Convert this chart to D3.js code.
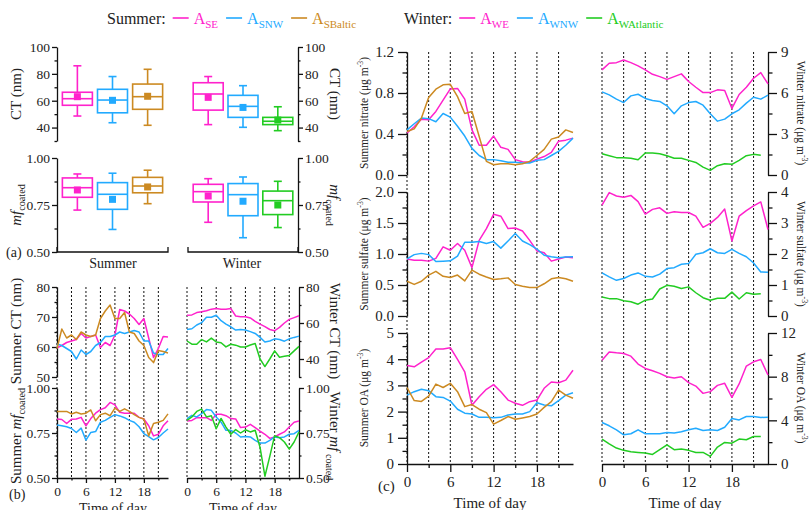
<!DOCTYPE html>
<html>
<head>
<meta charset="utf-8">
<script src="https://cdn.jsdelivr.net/npm/d3@7"></script>
<style>
  body { margin: 0; background: #fff; }
  svg { font-family: "Liberation Serif", "Times New Roman", serif; }
</style>
</head>
<body>
<svg id="chart" width="810" height="510"></svg>
<script>
// ---- data ----
const hours = d3.range(24);
const dotHours = [0, 3, 6, 9, 12, 15, 18, 21];
const summerKeys = ["SE", "SNW", "SBaltic"];
const winterKeys = ["WE", "WNW", "WAtlantic"];

// box stats: [low whisker, q1, median, q3, high whisker, mean]
const ctBoxSummer = [[48.6, 56.6, 61.5, 66.3, 86, 63], [43.6, 51, 60.5, 68.5, 78, 60.3], [41.7, 53.6, 63, 72.4, 83.4, 63.3]];
const ctBoxWinter = [[42.2, 53, 65, 73.4, 78, 62.5], [40.2, 47.6, 55.8, 64, 71.2, 55], [37.7, 42.2, 44.7, 47.6, 55.5, 45.6]];
const mfBoxSummer = [[0.723, 0.791, 0.842, 0.894, 0.915, 0.83], [0.62, 0.727, 0.807, 0.869, 0.919, 0.78], [0.757, 0.815, 0.851, 0.897, 0.935, 0.846]];
const mfBoxWinter = [[0.658, 0.766, 0.821, 0.86, 0.89, 0.798], [0.576, 0.693, 0.805, 0.864, 0.899, 0.77], [0.63, 0.699, 0.773, 0.824, 0.876, 0.75]];

// (b) diurnal CT and mf_coated
const ctSumSE = [59.7, 60.5, 61.5, 62, 62.5, 64.5, 63, 63.5, 64, 59.8, 61.5, 60.5, 64, 72.5, 72, 71, 69.5, 67.5, 69.5, 63, 56.5, 59.5, 63.5, 63.3];
const ctSumSNW = [61, 60.5, 59.5, 58.5, 56, 59, 57.5, 58.5, 60.5, 61.5, 63.5, 63.5, 64, 65, 64.5, 65, 65.5, 65, 62, 62, 58, 57.5, 57.5, 59.5];
const ctSumSBaltic = [59.5, 66, 63, 64, 62.5, 65, 64, 63.5, 64, 69.5, 72, 74, 69.5, 69.5, 71.5, 65, 64.5, 62, 60.5, 56.5, 54.8, 58.8, 58.5, 58];
const mfSumSE = [0.828, 0.825, 0.803, 0.826, 0.828, 0.837, 0.79, 0.83, 0.86, 0.88, 0.89, 0.92, 0.906, 0.865, 0.86, 0.86, 0.86, 0.837, 0.828, 0.79, 0.734, 0.743, 0.79, 0.818];
const mfSumSNW = [0.794, 0.79, 0.785, 0.775, 0.753, 0.777, 0.71, 0.753, 0.758, 0.81, 0.82, 0.837, 0.852, 0.845, 0.835, 0.82, 0.81, 0.785, 0.747, 0.73, 0.712, 0.725, 0.75, 0.772];
const mfSumSBaltic = [0.87, 0.87, 0.87, 0.856, 0.865, 0.856, 0.86, 0.878, 0.818, 0.852, 0.86, 0.846, 0.888, 0.87, 0.884, 0.87, 0.852, 0.837, 0.828, 0.734, 0.803, 0.81, 0.82, 0.856];
const ctWinWE = [64.3, 64.5, 65.8, 66.2, 66.8, 67.7, 68, 67.7, 67.7, 68, 63.9, 63.5, 63.5, 62.8, 60.9, 59.4, 58, 56.4, 55.7, 57.6, 60, 62, 63, 64];
const ctWinWNW = [56.4, 56.8, 58.9, 60.2, 63.2, 63.2, 64.3, 61.3, 59.4, 57.9, 56.1, 56.4, 56.1, 55.2, 54.2, 52, 49.4, 50, 51.2, 50.8, 49.9, 51.2, 52, 52.7];
const ctWinWAtlantic = [50, 48.2, 48.2, 50.8, 49.5, 51.6, 49.5, 49, 46.7, 48.2, 47.7, 46.7, 46.7, 47.8, 48.6, 40, 35.8, 40, 44.5, 41, 41.5, 42, 44.5, 47];
const mfWinWE = [0.817, 0.82, 0.835, 0.835, 0.835, 0.82, 0.854, 0.854, 0.846, 0.83, 0.828, 0.78, 0.783, 0.798, 0.78, 0.761, 0.743, 0.72, 0.728, 0.743, 0.756, 0.783, 0.81, 0.817];
const mfWinWNW = [0.83, 0.848, 0.839, 0.857, 0.88, 0.876, 0.839, 0.81, 0.765, 0.765, 0.75, 0.728, 0.731, 0.728, 0.709, 0.694, 0.694, 0.709, 0.728, 0.724, 0.728, 0.743, 0.746, 0.765];
const mfWinWAtlantic = [0.82, 0.839, 0.87, 0.883, 0.839, 0.846, 0.774, 0.831, 0.783, 0.743, 0.769, 0.75, 0.768, 0.756, 0.765, 0.67, 0.51, 0.62, 0.735, 0.724, 0.7, 0.66, 0.7, 0.756];

// (c) diurnal composition
const nitSumSE = [0.41, 0.47, 0.545, 0.54, 0.62, 0.73, 0.84, 0.845, 0.74, 0.44, 0.29, 0.29, 0.38, 0.27, 0.25, 0.15, 0.13, 0.125, 0.155, 0.18, 0.22, 0.33, 0.34, 0.36];
const nitSumSNW = [0.44, 0.5, 0.555, 0.55, 0.52, 0.6, 0.565, 0.475, 0.38, 0.26, 0.19, 0.15, 0.15, 0.14, 0.125, 0.125, 0.117, 0.117, 0.143, 0.15, 0.19, 0.23, 0.29, 0.36];
const nitSumSBaltic = [0.425, 0.45, 0.555, 0.755, 0.837, 0.88, 0.885, 0.765, 0.6, 0.62, 0.375, 0.133, 0.1, 0.11, 0.11, 0.1, 0.11, 0.133, 0.19, 0.25, 0.35, 0.37, 0.44, 0.415];
const sulSumSE = [0.92, 0.9, 0.9, 0.885, 0.93, 1.115, 1.06, 1.17, 1.06, 0.78, 1.22, 1.41, 1.64, 1.61, 1.41, 1.42, 1.37, 1.22, 1.05, 1.02, 0.885, 0.92, 0.95, 0.94];
const sulSumSNW = [0.92, 0.99, 1.01, 0.99, 0.88, 0.885, 0.89, 0.965, 1.19, 1.19, 1.2, 1.17, 1.2, 1.095, 1.21, 1.33, 1.21, 1.15, 1.08, 0.98, 0.955, 0.94, 0.95, 0.955];
const sulSumSBaltic = [0.56, 0.51, 0.56, 0.66, 0.72, 0.64, 0.62, 0.66, 0.566, 0.74, 0.674, 0.63, 0.59, 0.6, 0.615, 0.507, 0.48, 0.458, 0.458, 0.52, 0.6, 0.62, 0.6, 0.56];
const oaSumSE = [3.76, 3.71, 3.89, 4.06, 4.39, 4.39, 4.44, 3.99, 3.52, 2.24, 2.57, 2.85, 3.03, 2.76, 2.44, 2.32, 2.24, 2.38, 2.44, 2.89, 3.13, 3.1, 3.2, 3.58];
const oaSumSNW = [2.63, 2.76, 2.85, 2.8, 2.57, 2.54, 2.4, 2.09, 1.94, 1.91, 1.78, 1.78, 1.77, 1.78, 1.87, 1.91, 1.91, 2.0, 2.34, 2.25, 2.22, 2.42, 2.63, 2.72];
const oaSumSBaltic = [2.92, 2.42, 2.39, 2.59, 3.05, 2.92, 3.08, 2.76, 2.19, 2.27, 2.09, 1.96, 1.52, 1.66, 1.81, 1.71, 1.76, 1.81, 1.91, 2.16, 2.38, 2.82, 2.63, 2.51];
const nitWinWE = [7.69, 8.18, 8.22, 8.42, 8.22, 7.98, 7.69, 7.37, 7.2, 7.0, 7.2, 7.4, 6.84, 6.42, 6.03, 6.03, 6.23, 6.18, 4.87, 5.89, 6.42, 7.08, 7.49, 6.67];
const nitWinWNW = [6.08, 5.86, 5.55, 5.3, 5.79, 5.91, 5.6, 5.45, 5.38, 5.06, 4.48, 5.06, 5.3, 5.38, 5.11, 4.48, 3.94, 4.09, 4.48, 4.77, 5.26, 5.69, 5.55, 5.84];
const nitWinWAtlantic = [1.56, 1.41, 1.27, 1.27, 1.22, 1.12, 1.61, 1.61, 1.56, 1.41, 1.22, 1.22, 1.07, 0.92, 0.58, 0.34, 0.68, 0.83, 0.78, 1.07, 1.41, 1.51, 1.44];
const sulWinWE = [3.58, 3.98, 3.87, 3.83, 3.89, 3.69, 3.29, 3.44, 3.49, 3.31, 3.36, 3.34, 3.34, 3.22, 2.86, 2.99, 3.18, 3.45, 2.42, 3.22, 3.4, 3.55, 3.68, 2.79];
const sulWinWNW = [1.39, 1.26, 1.15, 1.21, 1.32, 1.39, 1.28, 1.26, 1.35, 1.53, 1.56, 1.67, 1.69, 1.99, 2.04, 2.17, 2.04, 2.02, 2.15, 2.02, 1.91, 1.71, 1.42, 1.41];
const sulWinWAtlantic = [0.61, 0.56, 0.56, 0.49, 0.46, 0.38, 0.51, 0.55, 0.87, 0.99, 0.96, 0.89, 0.94, 0.75, 0.59, 0.51, 0.57, 0.57, 0.77, 0.55, 0.75, 0.7, 0.72];
const oaWinWE = [9.51, 10.27, 10.18, 10.12, 9.88, 9.15, 8.75, 8.54, 8.3, 7.99, 7.87, 7.99, 7.45, 7.14, 6.47, 6.63, 7.2, 7.39, 6.11, 7.33, 8.97, 9.36, 9.57, 8.15];
const oaWinWNW = [3.8, 3.5, 3.13, 2.67, 2.77, 3.13, 2.77, 2.77, 2.77, 2.89, 2.83, 2.95, 3.13, 3.28, 3.07, 3.13, 3.07, 3.37, 4.16, 4.04, 4.35, 4.35, 4.26, 4.29];
const oaWinWAtlantic = [2.28, 1.85, 1.46, 1.25, 1.12, 1.06, 1.0, 0.88, 1.31, 1.76, 1.31, 1.37, 1.25, 1.06, 1.06, 0.7, 1.55, 1.98, 1.91, 2.28, 2.22, 2.52, 2.52];

const colors = { SE: "#ff22cc", SNW: "#22aaff", SBaltic: "#cc8a22", WE: "#ff22cc", WNW: "#22aaff", WAtlantic: "#22cc22" };

const svg = d3.select("#chart");
const FONT = '"Liberation Serif", "Times New Roman", serif';

// ---- helpers ----
function styleAxis(g, fs) {
  g.attr("font-family", FONT).attr("font-size", fs);
  g.selectAll("path, line").attr("stroke", "#111").attr("stroke-width", 1.3);
  g.selectAll("text").attr("fill", "#222");
}

function yAxis(scale, x, side, major, minor, fmt, size, fs, pad) {
  const mk = side === "left" ? d3.axisLeft : d3.axisRight;
  const g = svg.append("g").attr("transform", `translate(${x},0)`);
  g.call(mk(scale).tickValues(major).tickFormat(fmt).tickSize(size).tickSizeOuter(0).tickPadding(pad));
  if (minor.length) {
    g.append("g").call(mk(scale).tickValues(minor).tickFormat("").tickSize(size / 2).tickSizeOuter(0))
      .select(".domain").remove();
  }
  styleAxis(g, fs);
  return g;
}

function xAxis(scale, y, size, fs, pad) {
  const g = svg.append("g").attr("transform", `translate(0,${y})`);
  g.call(d3.axisBottom(scale).tickValues([0, 6, 12, 18]).tickFormat(d3.format("d")).tickSize(size).tickSizeOuter(0).tickPadding(pad));
  g.append("g").call(d3.axisBottom(scale).tickValues([3, 9, 15, 21]).tickFormat("").tickSize(size / 2).tickSizeOuter(0))
    .select(".domain").remove();
  styleAxis(g, fs);
}

function dotted(x, y0, y1) {
  svg.append("g").selectAll("line").data(dotHours).join("line")
    .attr("x1", d => x(d)).attr("x2", d => x(d))
    .attr("y1", y0).attr("y2", y1)
    .attr("stroke", "#111").attr("stroke-width", 1).attr("stroke-dasharray", "2,2");
}

function lines(x, y, series) {
  const line = d3.line().x((d, i) => x(i)).y(d => y(d));
  svg.append("g").selectAll("path").data(series).join("path")
    .attr("d", d => line(d.values))
    .attr("fill", "none")
    .attr("stroke", d => colors[d.key])
    .attr("stroke-width", 1.5)
    .attr("stroke-linejoin", "round");
}

function boxes(x, y, keys, stats) {
  const g = svg.append("g");
  keys.forEach((k, i) => {
    const [lo, q1, med, q3, hi, mean] = stats[i];
    const cx = x(k), col = colors[k], w = 30, cap = 8;
    const b = g.append("g").attr("stroke", col).attr("stroke-width", 1.6).attr("fill", "none");
    b.append("line").attr("x1", cx).attr("x2", cx).attr("y1", y(hi)).attr("y2", y(q3));
    b.append("line").attr("x1", cx).attr("x2", cx).attr("y1", y(q1)).attr("y2", y(lo));
    b.append("line").attr("x1", cx - cap / 2).attr("x2", cx + cap / 2).attr("y1", y(hi)).attr("y2", y(hi));
    b.append("line").attr("x1", cx - cap / 2).attr("x2", cx + cap / 2).attr("y1", y(lo)).attr("y2", y(lo));
    b.append("rect").attr("x", cx - w / 2).attr("y", y(q3)).attr("width", w).attr("height", y(q1) - y(q3));
    b.append("line").attr("x1", cx - w / 2).attr("x2", cx + w / 2).attr("y1", y(med)).attr("y2", y(med));
    g.append("rect").attr("x", cx - 3.5).attr("y", y(mean) - 3.5).attr("width", 7).attr("height", 7).attr("fill", col);
  });
}

// rotated axis title; parts = [[text, {italic, sub, sup}], ...]
function vlabel(x, y, rot, parts, fs) {
  const t = svg.append("text")
    .attr("transform", `translate(${x},${y}) rotate(${rot})`)
    .attr("text-anchor", "middle").attr("font-size", fs).attr("fill", "#222");
  let shift = 0;
  parts.forEach(([txt, o = {}]) => {
    const want = o.sub ? fs * 0.25 : o.sup ? -fs * 0.4 : 0;
    const s = t.append("tspan").text(txt).attr("dy", want - shift);
    shift = want;
    if (o.italic) s.attr("font-style", "italic");
    if (o.sub || o.sup) s.attr("font-size", fs * 0.68);
  });
}

function ser(keys, arrs) { return keys.map((k, i) => ({ key: k, values: arrs[i] })); }

// ---- legend ----
function legend(x0, title, keys) {
  const y = 24;
  let x = x0;
  const tt = svg.append("text").attr("x", x).attr("y", y).attr("font-size", 16).attr("fill", "#222").text(title);
  x += tt.node().getComputedTextLength() + 7;
  keys.forEach(k => {
    svg.append("line").attr("x1", x).attr("x2", x + 16).attr("y1", y - 6).attr("y2", y - 6)
      .attr("stroke", colors[k]).attr("stroke-width", 1.6);
    x += 21;
    const t = svg.append("text").attr("x", x).attr("y", y).attr("font-size", 16).attr("fill", colors[k]);
    t.append("tspan").text("A");
    t.append("tspan").text(k).attr("font-size", 11).attr("dy", 4);
    x += t.node().getComputedTextLength() + 8;
  });
}
legend(107, "Summer:", summerKeys);
legend(404, "Winter:", winterKeys);

// ---- panel (a) box plots ----
const xBoxS = d3.scalePoint().domain(summerKeys).range([57, 168]).padding(0.58);
const xBoxW = d3.scalePoint().domain(winterKeys).range([188, 298]).padding(0.58);
const yCtA = d3.scaleLinear().domain([30, 100]).range([141, 47]);
const yMfA = d3.scaleLinear().domain([0.5, 1]).range([252, 158]);

yAxis(yCtA, 57, "left", [40, 60, 80, 100], [30, 50, 70, 90], d3.format("d"), 5, 13.5, 2);
yAxis(yCtA, 298, "right", [40, 60, 80, 100], [30, 50, 70, 90], d3.format("d"), 5, 13.5, 2);
yAxis(yMfA, 57, "left", [0.5, 0.75, 1], [0.625, 0.875], d3.format(".2f"), 5, 13.5, 2);
yAxis(yMfA, 298, "right", [0.5, 0.75, 1], [0.625, 0.875], d3.format(".2f"), 5, 13.5, 2);

// broken category axis
[[57, 168], [188, 298]].forEach(([a, b]) => {
  svg.append("path").attr("d", `M${a},247V252H${b}V247`).attr("fill", "none")
    .attr("stroke", "#111").attr("stroke-width", 1.3);
});
svg.append("text").attr("x", 113).attr("y", 268).attr("text-anchor", "middle").attr("font-size", 14).attr("fill", "#222").text("Summer");
svg.append("text").attr("x", 242).attr("y", 268).attr("text-anchor", "middle").attr("font-size", 14).attr("fill", "#222").text("Winter");
svg.append("text").attr("x", 6).attr("y", 257).attr("font-size", 14).attr("fill", "#222").text("(a)");

boxes(xBoxS, yCtA, summerKeys, ctBoxSummer);
boxes(xBoxW, yCtA, winterKeys, ctBoxWinter);
boxes(xBoxS, yMfA, summerKeys, mfBoxSummer);
boxes(xBoxW, yMfA, winterKeys, mfBoxWinter);

vlabel(21, 94, -90, [["CT (nm)"]], 15);
vlabel(330, 94, 90, [["CT (nm)"]], 15);
vlabel(21, 205, -90, [["mf", { italic: true }], ["coated", { sub: true }]], 15);
vlabel(330, 205, 90, [["mf", { italic: true }], ["coated", { sub: true }]], 15);

// ---- panel (b) diurnal CT / mf ----
const xBS = d3.scaleLinear().domain([0, 23]).range([57, 168]);
const xBW = d3.scaleLinear().domain([0, 23]).range([187, 299]);
const yCtBS = d3.scaleLinear().domain([50, 80]).range([377, 287]);
const yCtBW = d3.scaleLinear().domain([30, 80]).range([377, 287]);
const yMfB = d3.scaleLinear().domain([0.5, 1]).range([478, 388]);

dotted(xBS, 287, 478);
dotted(xBW, 287, 478);

yAxis(yCtBS, 57, "left", [50, 60, 70, 80], [55, 65, 75], d3.format("d"), 5, 13.5, 2);
yAxis(yCtBW, 299, "right", [40, 60, 80], [30, 50, 70], d3.format("d"), 5, 13.5, 2);
yAxis(yMfB, 57, "left", [0.5, 0.75, 1], [0.625, 0.875], d3.format(".2f"), 5, 13.5, 2);
yAxis(yMfB, 299, "right", [0.5, 0.75, 1], [0.625, 0.875], d3.format(".2f"), 5, 13.5, 2);
xAxis(xBS, 478, 5, 13.5, 3);
xAxis(xBW, 478, 5, 13.5, 3);

lines(xBS, yCtBS, ser(summerKeys, [ctSumSE, ctSumSNW, ctSumSBaltic]));
lines(xBW, yCtBW, ser(winterKeys, [ctWinWE, ctWinWNW, ctWinWAtlantic]));
lines(xBS, yMfB, ser(summerKeys, [mfSumSE, mfSumSNW, mfSumSBaltic]));
lines(xBW, yMfB, ser(winterKeys, [mfWinWE, mfWinWNW, mfWinWAtlantic]));

vlabel(21, 331, -90, [["Summer CT (nm)"]], 15);
vlabel(21, 436, -90, [["Summer "], ["mf", { italic: true }], ["coated", { sub: true }]], 15);
vlabel(330, 331, 90, [["Winter CT (nm)"]], 15);
vlabel(330, 436, 90, [["Winter "], ["mf", { italic: true }], [" coated", { sub: true }]], 15);
svg.append("text").attr("x", 9).attr("y", 499).attr("font-size", 14).attr("fill", "#222").text("(b)");
svg.append("text").attr("x", 113).attr("y", 513).attr("text-anchor", "middle").attr("font-size", 14).attr("fill", "#222").text("Time of day");
svg.append("text").attr("x", 243).attr("y", 513).attr("text-anchor", "middle").attr("font-size", 14).attr("fill", "#222").text("Time of day");

// ---- panel (c) diurnal composition ----
const xCS = d3.scaleLinear().domain([0, 23]).range([407, 573]);
const xCW = d3.scaleLinear().domain([0, 23]).range([602, 768]);
const yNitS = d3.scaleLinear().domain([0, 1.2]).range([175, 52]);
const yNitW = d3.scaleLinear().domain([0, 9]).range([175, 52]);
const ySulS = d3.scaleLinear().domain([0, 2]).range([316, 192]);
const ySulW = d3.scaleLinear().domain([0, 4]).range([316, 192]);
const yOaS = d3.scaleLinear().domain([0, 5]).range([464, 333]);
const yOaW = d3.scaleLinear().domain([0, 12]).range([464, 333]);

dotted(xCS, 52, 464);
dotted(xCW, 52, 464);

yAxis(yNitS, 407, "left", [0, 0.4, 0.8, 1.2], [0.2, 0.6, 1.0], d3.format(".1f"), 9, 15, 4);
yAxis(ySulS, 407, "left", [0, 0.5, 1, 1.5, 2], [0.25, 0.75, 1.25, 1.75], d3.format(".1f"), 9, 15, 4);
yAxis(yOaS, 407, "left", [0, 1, 2, 3, 4, 5], [0.5, 1.5, 2.5, 3.5, 4.5], d3.format("d"), 9, 15, 4);
yAxis(yNitW, 768, "right", [0, 3, 6, 9], [1.5, 4.5, 7.5], d3.format("d"), 9, 15, 4);
yAxis(ySulW, 768, "right", [0, 1, 2, 3, 4], [0.5, 1.5, 2.5, 3.5], d3.format("d"), 9, 15, 4);
yAxis(yOaW, 768, "right", [0, 4, 8, 12], [2, 6, 10], d3.format("d"), 9, 15, 4);
xAxis(xCS, 464, 8, 15, 4);
xAxis(xCW, 464, 8, 15, 4);

lines(xCS, yNitS, ser(summerKeys, [nitSumSE, nitSumSNW, nitSumSBaltic]));
lines(xCS, ySulS, ser(summerKeys, [sulSumSE, sulSumSNW, sulSumSBaltic]));
lines(xCS, yOaS, ser(summerKeys, [oaSumSE, oaSumSNW, oaSumSBaltic]));
lines(xCW, yNitW, ser(winterKeys, [nitWinWE, nitWinWNW, nitWinWAtlantic]));
lines(xCW, ySulW, ser(winterKeys, [sulWinWE, sulWinWNW, sulWinWAtlantic]));
lines(xCW, yOaW, ser(winterKeys, [oaWinWE, oaWinWNW, oaWinWAtlantic]));

const unit = [[" (\u03bcg m"], ["-3", { sup: true }], [")"]];
vlabel(368, 113, -90, [["Summer nitrate"], ...unit], 11.5);
vlabel(368, 254, -90, [["Summer sulfate"], ...unit], 11.5);
vlabel(368, 398, -90, [["Summer OA"], ...unit], 11.5);
vlabel(797, 113, 90, [["Winter nitrate"], ...unit], 11.5);
vlabel(797, 254, 90, [["Winter sulfate"], ...unit], 11.5);
vlabel(797, 398, 90, [["Winter OA"], ...unit], 11.5);

svg.append("text").attr("x", 378).attr("y", 491).attr("font-size", 15).attr("fill", "#222").text("(c)");
svg.append("text").attr("x", 490).attr("y", 508).attr("text-anchor", "middle").attr("font-size", 15).attr("fill", "#222").text("Time of day");
svg.append("text").attr("x", 685).attr("y", 508).attr("text-anchor", "middle").attr("font-size", 15).attr("fill", "#222").text("Time of day");
</script>
</body>
</html>
